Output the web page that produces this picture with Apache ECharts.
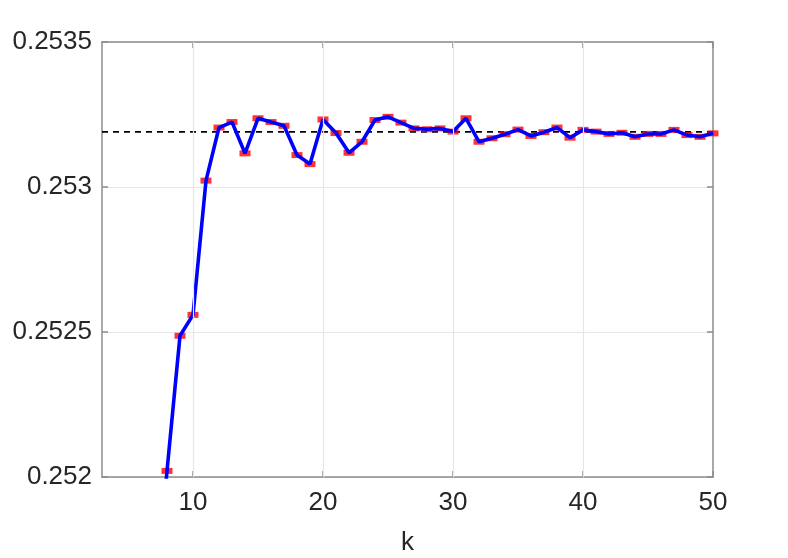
<!DOCTYPE html>
<html>
<head>
<meta charset="utf-8">
<script src="https://cdn.jsdelivr.net/npm/echarts@6/dist/echarts.min.js"></script>
<style>html,body{margin:0;padding:0;background:#fff;}#c{width:788px;height:558px;}</style>
</head>
<body>
<div id="c"></div>
<script>
var kValues = [7, 8, 9, 10, 11, 12, 13, 14, 15, 16, 17, 18, 19, 20, 21, 22, 23, 24, 25, 26, 27, 28, 29, 30, 31, 32, 33, 34, 35, 36, 37, 38, 39, 40, 41, 42, 43, 44, 45, 46, 47, 48, 49, 50];
var estValues = [0.25150, 0.252021, 0.252487, 0.252559, 0.253022, 0.253205, 0.253224, 0.253116, 0.253237, 0.253224, 0.253211, 0.253110, 0.253079, 0.253233, 0.253186, 0.253118, 0.253156, 0.253231, 0.253242, 0.253222, 0.253202, 0.253199, 0.253202, 0.253191, 0.253237, 0.253156, 0.253168, 0.253182, 0.253198, 0.253176, 0.253189, 0.253205, 0.253170, 0.253197, 0.253191, 0.253183, 0.253187, 0.253173, 0.253183, 0.253183, 0.253197, 0.253179, 0.253173, 0.253185];
var refValue = 0.25319;
var xTicks = [10, 20, 30, 40, 50];
var yTicks = [0.252, 0.2525, 0.253, 0.2535];

var pts = kValues.map(function (k, i) { return [k, estValues[i]]; });
var refPts = [[3, refValue], [50, refValue]];
var axisGray = '#8c8c8c';
var txt = '#262626';
var font = 'Liberation Sans, Arial, sans-serif';

var chart = echarts.init(document.getElementById('c'), null, {renderer: 'canvas'});
chart.setOption({
  animation: false,
  backgroundColor: '#fff',
  grid: {left: 102, right: 75, top: 42, bottom: 81, containLabel: false, outerBoundsMode: 'none'},
  xAxis: [{
    type: 'value', min: 3, max: 50, position: 'bottom',
    name: 'k', nameLocation: 'middle', nameGap: 53,
    nameTextStyle: {fontSize: 26, color: txt, fontFamily: font},
    axisLine: {show: true, onZero: false, lineStyle: {color: axisGray, width: 1.5}},
    axisTick: {show: true, inside: true, length: 6, customValues: xTicks, lineStyle: {color: axisGray, width: 1.5}},
    axisLabel: {customValues: xTicks, fontSize: 26, color: txt, fontFamily: font, margin: 13},
    splitLine: {show: false}
  }, {
    type: 'value', min: 3, max: 50, position: 'top',
    axisLine: {show: true, onZero: false, lineStyle: {color: axisGray, width: 1.5}},
    axisTick: {show: true, inside: true, length: 6, customValues: xTicks, lineStyle: {color: axisGray, width: 1.5}},
    axisLabel: {show: false},
    splitLine: {show: false}
  }],
  yAxis: [{
    type: 'value', min: 0.252, max: 0.2535, interval: 0.0005, position: 'left',
    axisLine: {show: true, onZero: false, lineStyle: {color: axisGray, width: 1.5}},
    axisTick: {show: true, inside: true, length: 6, lineStyle: {color: axisGray, width: 1.5}},
    axisLabel: {fontSize: 26, color: txt, fontFamily: font, margin: 10,
      formatter: function (v) { return String(+v.toFixed(4)); }},
    splitLine: {show: true, lineStyle: {color: '#e6e6e6', width: 1.2}}
  }, {
    type: 'value', min: 0.252, max: 0.2535, interval: 0.0005, position: 'right',
    axisLine: {show: true, onZero: false, lineStyle: {color: axisGray, width: 1.5}},
    axisTick: {show: true, inside: true, length: 6, lineStyle: {color: axisGray, width: 1.5}},
    axisLabel: {show: false},
    splitLine: {show: false}
  }],
  series: [{
    type: 'line', data: [], xAxisIndex: 0, yAxisIndex: 0, silent: true,
    markLine: {
      silent: true, symbol: 'none', label: {show: false},
      lineStyle: {color: '#e6e6e6', width: 1.2, type: 'solid'},
      data: xTicks.slice(0, 4).map(function (t) { return {xAxis: t}; })
    }
  }, {
    type: 'line', data: refPts, showSymbol: false, z: 2, silent: true,
    lineStyle: {color: '#000', width: 1.6, type: [6, 5]}
  }, {
    type: 'scatter', data: pts, symbol: 'rect', symbolSize: [11, 6], z: 3, silent: true,
    itemStyle: {color: '#ff0000'}, clip: true
  }, {
    type: 'line', data: pts, showSymbol: false, z: 4, silent: true, clip: true,
    lineStyle: {color: '#0000ff', width: 3.6}
  }]
});
</script>
</body>
</html>
